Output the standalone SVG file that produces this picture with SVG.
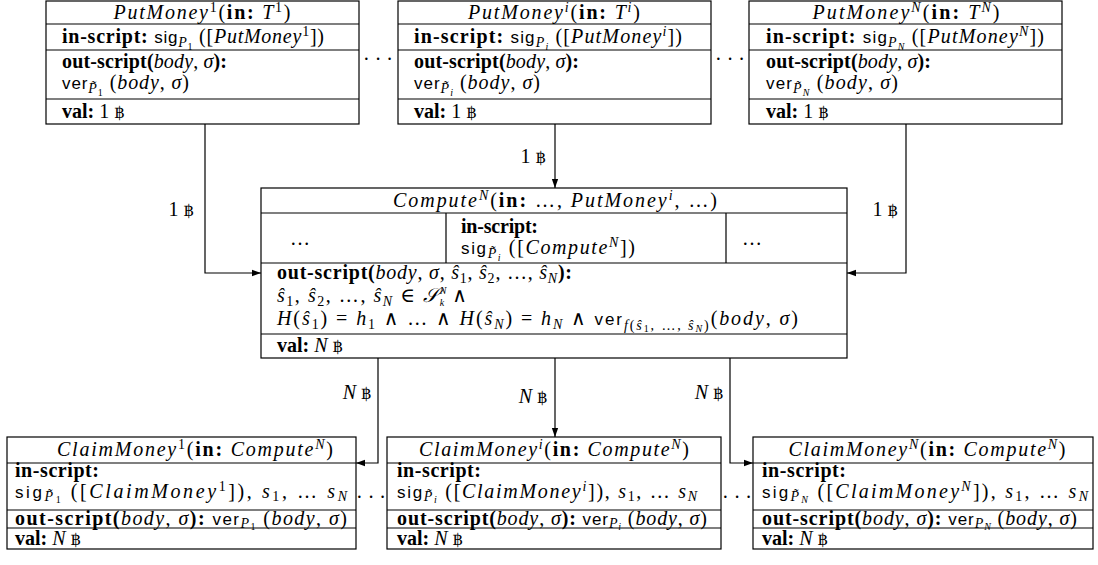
<svg xmlns="http://www.w3.org/2000/svg" width="1098" height="565" viewBox="0 0 1098 565">
<style>
.bx{fill:#fff;stroke:#000;stroke-width:1.2}
.ln{stroke:#000;stroke-width:1.2;fill:none}
.t{font-family:"Liberation Serif","DejaVu Serif",serif;font-size:20px;fill:#000}
.t2{font-family:"Liberation Serif","DejaVu Serif",serif;font-size:20px;fill:#000}
.i{font-style:italic}
.b{font-weight:bold}
.sf{font-family:"Liberation Sans","DejaVu Sans",sans-serif;font-size:17px}
.s{font-size:14px}
.ss{font-size:10px}
.btc{font-family:"DejaVu Serif",serif;font-size:16px}
.c{text-anchor:middle}
</style>
<defs>
<marker id="ah" viewBox="0 0 10 10" refX="10" refY="5" markerWidth="9" markerHeight="9" markerUnits="userSpaceOnUse" orient="auto">
<path d="M0,1.5 L10,5 L0,8.5 Z" fill="#000"/>
</marker>
</defs>

<g id="connectors">
<path class="ln" d="M205,124 V273 H261" marker-end="url(#ah)"/>
<path class="ln" d="M555,124 V188" marker-end="url(#ah)"/>
<path class="ln" d="M906,124 V273 H847" marker-end="url(#ah)"/>
<path class="ln" d="M378,358 V463 H356" marker-end="url(#ah)"/>
<path class="ln" d="M555,358 V437" marker-end="url(#ah)"/>
<path class="ln" d="M730,358 V463 H753" marker-end="url(#ah)"/>
<text class="t c" x="181" y="216">1 <tspan class="btc">฿</tspan></text>
<text class="t c" x="533" y="163">1 <tspan class="btc">฿</tspan></text>
<text class="t c" x="885" y="216">1 <tspan class="btc">฿</tspan></text>
<text class="t c" x="357" y="399"><tspan class="i">N</tspan> <tspan class="btc">฿</tspan></text>
<text class="t c" x="533" y="403"><tspan class="i">N</tspan> <tspan class="btc">฿</tspan></text>
<text class="t c" x="709" y="399"><tspan class="i">N</tspan> <tspan class="btc">฿</tspan></text>
</g>

<g id="dots">
<text class="t c" x="378" y="66">· · ·</text>
<text class="t c" x="730" y="66">· · ·</text>
<text class="t c" x="371" y="504">· · ·</text>
<text class="t c" x="737" y="504">· · ·</text>
</g>

<g id="putmoney1">
<rect class="bx" x="46" y="1" width="313" height="123"/>
<path class="ln" d="M46,24 H359 M46,50 H359 M46,99 H359"/>
<text class="t c" x="202" y="19" textLength="177" lengthAdjust="spacing"><tspan class="i">PutMoney</tspan><tspan class="s" baseline-shift="7">1</tspan>(<tspan class="b">in:</tspan> <tspan class="i">T</tspan><tspan class="s" baseline-shift="7">1</tspan>)</text>
<text class="t" x="62" y="43" textLength="262" lengthAdjust="spacing"><tspan class="b">in-script:</tspan> <tspan class="sf">sig</tspan><tspan class="s i" baseline-shift="-4">P</tspan><tspan class="ss" baseline-shift="-7">1</tspan> ([<tspan class="i">PutMoney</tspan><tspan class="s" baseline-shift="7">1</tspan>])</text>
<text class="t" x="62" y="68" textLength="165" lengthAdjust="spacing"><tspan class="b">out-script(</tspan><tspan class="i">body</tspan>, <tspan class="i">σ</tspan><tspan class="b">):</tspan></text>
<text class="t" x="62" y="89" textLength="127" lengthAdjust="spacing"><tspan class="sf">ver</tspan><tspan class="s i" baseline-shift="-4">P̃</tspan><tspan class="ss" baseline-shift="-7">1</tspan> (<tspan class="i">body</tspan>, <tspan class="i">σ</tspan>)</text>
<text class="t" x="62" y="118"><tspan class="b">val:</tspan> 1 <tspan class="btc">฿</tspan></text>
</g>

<g id="putmoneyi">
<rect class="bx" x="398" y="1" width="313" height="123"/>
<path class="ln" d="M398,24 H711 M398,50 H711 M398,99 H711"/>
<text class="t c" x="554" y="19" textLength="172" lengthAdjust="spacing"><tspan class="i">PutMoney</tspan><tspan class="s i" baseline-shift="7">i</tspan>(<tspan class="b">in:</tspan> <tspan class="i">T</tspan><tspan class="s i" baseline-shift="7">i</tspan>)</text>
<text class="t" x="414" y="43" textLength="268" lengthAdjust="spacing"><tspan class="b">in-script:</tspan> <tspan class="sf">sig</tspan><tspan class="s i" baseline-shift="-4">P</tspan><tspan class="ss i" baseline-shift="-7">i</tspan> ([<tspan class="i">PutMoney</tspan><tspan class="s i" baseline-shift="7">i</tspan>])</text>
<text class="t" x="414" y="68" textLength="165" lengthAdjust="spacing"><tspan class="b">out-script(</tspan><tspan class="i">body</tspan>, <tspan class="i">σ</tspan><tspan class="b">):</tspan></text>
<text class="t" x="414" y="89" textLength="126" lengthAdjust="spacing"><tspan class="sf">ver</tspan><tspan class="s i" baseline-shift="-4">P̃</tspan><tspan class="ss i" baseline-shift="-7">i</tspan> (<tspan class="i">body</tspan>, <tspan class="i">σ</tspan>)</text>
<text class="t" x="414" y="118"><tspan class="b">val:</tspan> 1 <tspan class="btc">฿</tspan></text>
</g>

<g id="putmoneyN">
<rect class="bx" x="749" y="1" width="313" height="123"/>
<path class="ln" d="M749,24 H1062 M749,50 H1062 M749,99 H1062"/>
<text class="t c" x="906" y="19" textLength="187" lengthAdjust="spacing"><tspan class="i">PutMoney</tspan><tspan class="s i" baseline-shift="7">N</tspan>(<tspan class="b">in:</tspan> <tspan class="i">T</tspan><tspan class="s i" baseline-shift="7">N</tspan>)</text>
<text class="t" x="766" y="43" textLength="278" lengthAdjust="spacing"><tspan class="b">in-script:</tspan> <tspan class="sf">sig</tspan><tspan class="s i" baseline-shift="-4">P</tspan><tspan class="ss i" baseline-shift="-7">N</tspan> ([<tspan class="i">PutMoney</tspan><tspan class="s i" baseline-shift="7">N</tspan>])</text>
<text class="t" x="766" y="68" textLength="165" lengthAdjust="spacing"><tspan class="b">out-script(</tspan><tspan class="i">body</tspan>, <tspan class="i">σ</tspan><tspan class="b">):</tspan></text>
<text class="t" x="766" y="89" textLength="132" lengthAdjust="spacing"><tspan class="sf">ver</tspan><tspan class="s i" baseline-shift="-4">P̃</tspan><tspan class="ss i" baseline-shift="-7">N</tspan> (<tspan class="i">body</tspan>, <tspan class="i">σ</tspan>)</text>
<text class="t" x="766" y="118"><tspan class="b">val:</tspan> 1 <tspan class="btc">฿</tspan></text>
</g>

<g id="compute">
<rect class="bx" x="261" y="188" width="586" height="170"/>
<path class="ln" d="M261,213 H847 M261,263 H847 M261,334 H847 M446,213 V263 M726,213 V263"/>
<text class="t c" x="555" y="207" textLength="324" lengthAdjust="spacing"><tspan class="i">Compute</tspan><tspan class="s i" baseline-shift="7">N</tspan>(<tspan class="b">in:</tspan>  …, <tspan class="i">PutMoney</tspan><tspan class="s i" baseline-shift="7">i</tspan>, …)</text>
<text class="t c" x="300" y="245">…</text>
<text class="t c" x="752" y="245">…</text>
<text class="t" x="461" y="233" textLength="77" lengthAdjust="spacing"><tspan class="b">in-script:</tspan></text>
<text class="t" x="461" y="254" textLength="174" lengthAdjust="spacing"><tspan class="sf">sig</tspan><tspan class="s i" baseline-shift="-4">P̃</tspan><tspan class="ss i" baseline-shift="-7">i</tspan> ([<tspan class="i">Compute</tspan><tspan class="s i" baseline-shift="7">N</tspan>])</text>
<text class="t" x="277" y="279" textLength="295" lengthAdjust="spacing"><tspan class="b">out-script(</tspan><tspan class="i">body</tspan>, <tspan class="i">σ</tspan>, <tspan class="i">ŝ</tspan><tspan class="s" baseline-shift="-4">1</tspan>, <tspan class="i">ŝ</tspan><tspan class="s" baseline-shift="-4">2</tspan>, …, <tspan class="i">ŝ</tspan><tspan class="s i" baseline-shift="-4">N</tspan><tspan class="b">):</tspan></text>
<text class="t" x="277" y="302" textLength="190" lengthAdjust="spacing"><tspan class="i">ŝ</tspan><tspan class="s" baseline-shift="-4">1</tspan>, <tspan class="i">ŝ</tspan><tspan class="s" baseline-shift="-4">2</tspan>, …, <tspan class="i">ŝ</tspan><tspan class="s i" baseline-shift="-4">N</tspan> ∈ <tspan class="i">𝒮</tspan><tspan class="ss i" baseline-shift="8">N</tspan><tspan class="ss i" dx="-8" baseline-shift="-4">k</tspan>  ∧</text>
<text class="t" x="277" y="325" textLength="521" lengthAdjust="spacing"><tspan class="i">H</tspan>(<tspan class="i">ŝ</tspan><tspan class="s" baseline-shift="-4">1</tspan>) = <tspan class="i">h</tspan><tspan class="s" baseline-shift="-4">1</tspan> ∧ … ∧ <tspan class="i">H</tspan>(<tspan class="i">ŝ</tspan><tspan class="s i" baseline-shift="-4">N</tspan>) = <tspan class="i">h</tspan><tspan class="s i" baseline-shift="-4">N</tspan> ∧ <tspan class="sf">ver</tspan><tspan class="s i" baseline-shift="-5">f</tspan><tspan class="s" baseline-shift="-5">(</tspan><tspan class="s i" baseline-shift="-5">ŝ</tspan><tspan class="ss" baseline-shift="-7">1</tspan><tspan class="s" baseline-shift="-5">, …, </tspan><tspan class="s i" baseline-shift="-5">ŝ</tspan><tspan class="ss i" baseline-shift="-7">N</tspan><tspan class="s" baseline-shift="-5">)</tspan>(<tspan class="i">body</tspan>, <tspan class="i">σ</tspan>)</text>
<text class="t" x="277" y="352"><tspan class="b">val:</tspan> <tspan class="i">N</tspan> <tspan class="btc">฿</tspan></text>
</g>

<g id="claimmoney1">
<rect class="bx" x="7" y="437" width="349" height="112"/>
<path class="ln" d="M7,463 H356 M7,510 H356 M7,528 H356"/>
<text class="t2 c" x="195" y="456" textLength="276" lengthAdjust="spacing"><tspan class="i">ClaimMoney</tspan><tspan class="s" baseline-shift="7">1</tspan>(<tspan class="b">in:</tspan> <tspan class="i">Compute</tspan><tspan class="s i" baseline-shift="7">N</tspan>)</text>
<text class="t2" x="15" y="477" textLength="84" lengthAdjust="spacing"><tspan class="b">in-script:</tspan></text>
<text class="t2" x="15" y="498" textLength="332" lengthAdjust="spacing"><tspan class="sf">sig</tspan><tspan class="s i" baseline-shift="-3">P̃</tspan><tspan class="ss" baseline-shift="-5">1</tspan> ([<tspan class="i">ClaimMoney</tspan><tspan class="s" baseline-shift="7">1</tspan>]), <tspan class="i">s</tspan><tspan class="s" baseline-shift="-3">1</tspan>, … <tspan class="i">s</tspan><tspan class="s i" baseline-shift="-3">N</tspan></text>
<text class="t2" x="15" y="525" textLength="332" lengthAdjust="spacing"><tspan class="b">out-script(</tspan><tspan class="i">body</tspan>, <tspan class="i">σ</tspan><tspan class="b">):</tspan> <tspan class="sf">ver</tspan><tspan class="s i" baseline-shift="-3">P</tspan><tspan class="ss" baseline-shift="-5">1</tspan> (<tspan class="i">body</tspan>, <tspan class="i">σ</tspan>)</text>
<text class="t2" x="15" y="545"><tspan class="b">val:</tspan> <tspan class="i">N</tspan> <tspan class="btc">฿</tspan></text>
</g>

<g id="claimmoneyi">
<rect class="bx" x="387" y="437" width="334" height="112"/>
<path class="ln" d="M387,463 H721 M387,510 H721 M387,528 H721"/>
<text class="t2 c" x="554" y="456" textLength="270" lengthAdjust="spacing"><tspan class="i">ClaimMoney</tspan><tspan class="s i" baseline-shift="7">i</tspan>(<tspan class="b">in:</tspan> <tspan class="i">Compute</tspan><tspan class="s i" baseline-shift="7">N</tspan>)</text>
<text class="t2" x="397" y="477" textLength="84" lengthAdjust="spacing"><tspan class="b">in-script:</tspan></text>
<text class="t2" x="397" y="498" textLength="300" lengthAdjust="spacing"><tspan class="sf">sig</tspan><tspan class="s i" baseline-shift="-3">P̃</tspan><tspan class="ss i" baseline-shift="-5">i</tspan> ([<tspan class="i">ClaimMoney</tspan><tspan class="s i" baseline-shift="7">i</tspan>]), <tspan class="i">s</tspan><tspan class="s" baseline-shift="-3">1</tspan>, … <tspan class="i">s</tspan><tspan class="s i" baseline-shift="-3">N</tspan></text>
<text class="t2" x="397" y="525" textLength="310" lengthAdjust="spacing"><tspan class="b">out-script(</tspan><tspan class="i">body</tspan>, <tspan class="i">σ</tspan><tspan class="b">):</tspan> <tspan class="sf">ver</tspan><tspan class="s i" baseline-shift="-3">P</tspan><tspan class="ss i" baseline-shift="-5">i</tspan> (<tspan class="i">body</tspan>, <tspan class="i">σ</tspan>)</text>
<text class="t2" x="397" y="545"><tspan class="b">val:</tspan> <tspan class="i">N</tspan> <tspan class="btc">฿</tspan></text>
</g>

<g id="claimmoneyN">
<rect class="bx" x="753" y="437" width="340" height="112"/>
<path class="ln" d="M753,463 H1093 M753,510 H1093 M753,528 H1093"/>
<text class="t2 c" x="927" y="456" textLength="277" lengthAdjust="spacing"><tspan class="i">ClaimMoney</tspan><tspan class="s i" baseline-shift="7">N</tspan>(<tspan class="b">in:</tspan> <tspan class="i">Compute</tspan><tspan class="s i" baseline-shift="7">N</tspan>)</text>
<text class="t2" x="762" y="477" textLength="84" lengthAdjust="spacing"><tspan class="b">in-script:</tspan></text>
<text class="t2" x="762" y="498" textLength="326" lengthAdjust="spacing"><tspan class="sf">sig</tspan><tspan class="s i" baseline-shift="-3">P̃</tspan><tspan class="ss i" baseline-shift="-5">N</tspan> ([<tspan class="i">ClaimMoney</tspan><tspan class="s i" baseline-shift="7">N</tspan>]), <tspan class="i">s</tspan><tspan class="s" baseline-shift="-3">1</tspan>, … <tspan class="i">s</tspan><tspan class="s i" baseline-shift="-3">N</tspan></text>
<text class="t2" x="762" y="525" textLength="315" lengthAdjust="spacing"><tspan class="b">out-script(</tspan><tspan class="i">body</tspan>, <tspan class="i">σ</tspan><tspan class="b">):</tspan> <tspan class="sf">ver</tspan><tspan class="s i" baseline-shift="-3">P</tspan><tspan class="ss i" baseline-shift="-5">N</tspan> (<tspan class="i">body</tspan>, <tspan class="i">σ</tspan>)</text>
<text class="t2" x="762" y="545"><tspan class="b">val:</tspan> <tspan class="i">N</tspan> <tspan class="btc">฿</tspan></text>
</g>
</svg>
